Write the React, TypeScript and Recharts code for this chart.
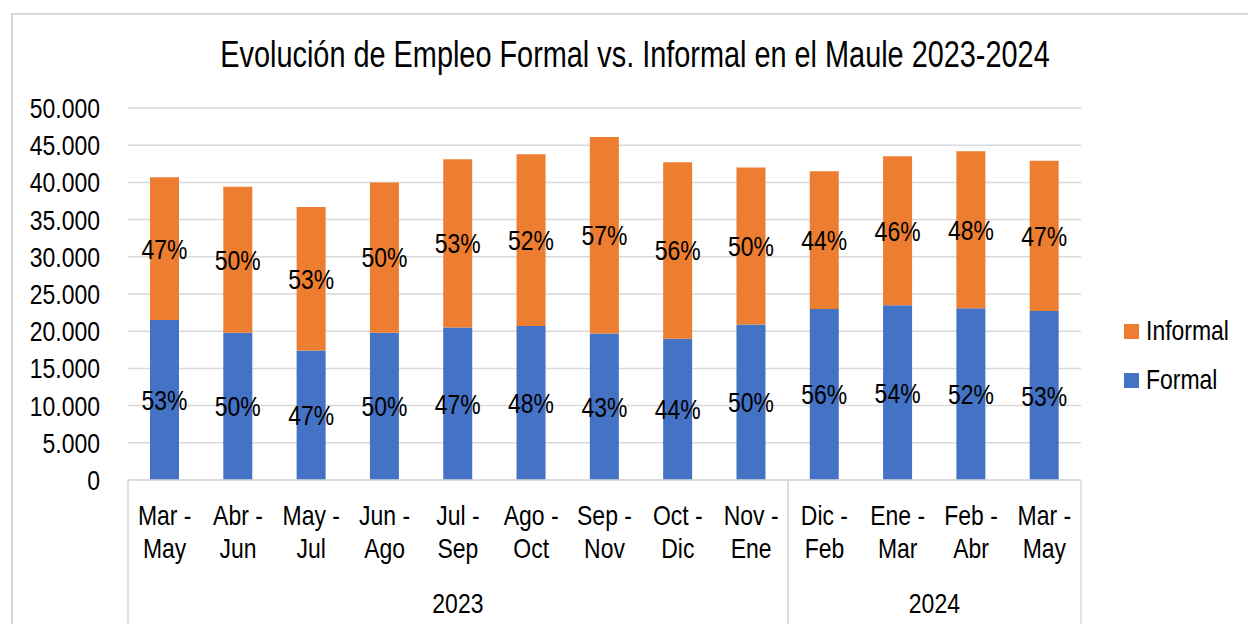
import React from 'react';
import { BarChart, Bar, XAxis, YAxis, CartesianGrid, LabelList } from 'recharts';

// period labels, split in two lines as in the original
const PERIOD_TOP = ['Mar -', 'Abr -', 'May -', 'Jun -', 'Jul -', 'Ago -', 'Sep -', 'Oct -', 'Nov -', 'Dic -', 'Ene -', 'Feb -', 'Mar -'];
const PERIOD_BOTTOM = ['May', 'Jun', 'Jul', 'Ago', 'Sep', 'Oct', 'Nov', 'Dic', 'Ene', 'Feb', 'Mar', 'Abr', 'May'];
const YEARS = [
  { label: '2023', count: 9 },
  { label: '2024', count: 4 },
];

const FORMAL = [21500, 19800, 17400, 19800, 20500, 20700, 19700, 19000, 20900, 23000, 23500, 23100, 22700];
const INFORMAL = [19200, 19600, 19300, 20200, 22600, 23100, 26400, 23700, 21100, 18500, 20000, 21100, 20200];
const FORMAL_PCT = [53, 50, 47, 50, 47, 48, 43, 44, 50, 56, 54, 52, 53];
const INFORMAL_PCT = [47, 50, 53, 50, 53, 52, 57, 56, 50, 44, 46, 48, 47];

const Y_TICKS = [0, 5000, 10000, 15000, 20000, 25000, 30000, 35000, 40000, 45000, 50000];

const W = 1248;
const H = 624;
const M_LEFT = 0;
const Y_W = 128;
const M_RIGHT = 167;
const M_TOP = 108;
const X_H = 144;
const BAND = (W - M_LEFT - Y_W - M_RIGHT) / PERIOD_TOP.length;

// no Arial Narrow here: Liberation Sans squeezed horizontally
const FONT = '"Liberation Sans", Arial, sans-serif';
const NARROW = 0.82;
const FS = 28;
const BLUE = '#4472C4';
const ORANGE = '#ED7D31';
const GRID = '#d9d9d9';

// year each period belongs to, plus group start/end flags
const yearOf: { start: boolean; end: boolean; label: string; count: number }[] = [];
YEARS.forEach((g) => {
  for (let k = 0; k < g.count; k++) {
    yearOf.push({ start: k === 0, end: k === g.count - 1, label: g.label, count: g.count });
  }
});

const data = PERIOD_TOP.map((t, i) => ({
  name: `${t} ${PERIOD_BOTTOM[i]} ${yearOf[i].label}`,
  formal: FORMAL[i],
  informal: INFORMAL[i],
  formalPct: `${FORMAL_PCT[i]}%`,
  informalPct: `${INFORMAL_PCT[i]}%`,
}));

const fmt = (v: number) => v.toLocaleString('de-DE');

const NText = ({ x, y, anchor = 'middle', dy, children }: any) => (
  <text
    transform={`translate(${x},${y}) scale(${NARROW},1)`}
    textAnchor={anchor}
    dy={dy}
    fontSize={FS}
    fontFamily={FONT}
    fill="#000"
  >
    {children}
  </text>
);

const PeriodTick = (props: any) => {
  const { x, y, payload } = props;
  const i = payload.index ?? props.index;
  const half = BAND / 2;
  const g = yearOf[i];
  return (
    <g>
      <NText x={x} y={y + 45}>{PERIOD_TOP[i]}</NText>
      <NText x={x} y={y + 78}>{PERIOD_BOTTOM[i]}</NText>
      {g.start && <line x1={x - half} x2={x - half} y1={y} y2={y + X_H} stroke={GRID} strokeWidth={1.5} />}
      {g.end && <line x1={x + half} x2={x + half} y1={y} y2={y + X_H} stroke={GRID} strokeWidth={1.5} />}
      {g.end && <NText x={x - (g.count - 1) * half} y={y + 133}>{g.label}</NText>}
    </g>
  );
};

const ValueTick = (props: any) => {
  const { x, y, payload } = props;
  return (
    <NText x={x} y={y} anchor="end" dy="0.355em">
      {fmt(payload.value)}
    </NText>
  );
};

const PctLabel = (props: any) => {
  const { x, y, width, height, value } = props;
  return (
    <NText x={x + width / 2} y={y + height / 2} dy="0.355em">
      {value}
    </NText>
  );
};

const LegendItem = ({ color, label, top }: { color: string; label: string; top: number }) => (
  <div style={{ position: 'absolute', left: 1124, top, display: 'flex', alignItems: 'center', height: 30 }}>
    <span style={{ width: 15, height: 15, background: color, display: 'inline-block', marginRight: 7 }} />
    <span
      style={{
        fontFamily: FONT,
        fontSize: FS,
        color: '#000',
        lineHeight: '30px',
        display: 'inline-block',
        transform: `scaleX(${NARROW})`,
        transformOrigin: 'left center',
        whiteSpace: 'nowrap',
      }}
    >
      {label}
    </span>
  </div>
);

export default function App() {
  return (
    <div style={{ position: 'absolute', left: 0, top: 0, width: W, height: H, overflow: 'hidden', background: '#fff' }}>
      <div
        style={{
          position: 'absolute',
          left: 11,
          top: 13,
          width: W + 20,
          height: H + 20,
          borderLeft: `2px solid ${GRID}`,
          borderTop: `2px solid ${GRID}`,
        }}
      />
      <div
        style={{
          position: 'absolute',
          left: 0,
          top: 36,
          width: 1270,
          textAlign: 'center',
          fontFamily: FONT,
          fontSize: 37,
          lineHeight: '37px',
          color: '#000',
          whiteSpace: 'nowrap',
          transform: 'scaleX(0.78)',
          transformOrigin: '635px 50%',
        }}
      >
        Evolución de Empleo Formal vs. Informal en el Maule 2023-2024
      </div>
      <BarChart
        width={W}
        height={H}
        data={data}
        margin={{ top: M_TOP, right: M_RIGHT, bottom: 0, left: M_LEFT }}
        barSize={29}
        style={{ position: 'absolute', left: 0, top: 0 }}
      >
        <CartesianGrid vertical={false} stroke={GRID} strokeWidth={1.5} />
        <XAxis
          dataKey="name"
          interval={0}
          height={X_H}
          tickLine={false}
          tickSize={0}
          tickMargin={0}
          axisLine={{ stroke: GRID, strokeWidth: 1.5 }}
          tick={<PeriodTick />}
        />
        <YAxis
          width={Y_W}
          domain={[0, 50000]}
          ticks={Y_TICKS}
          axisLine={false}
          tickLine={false}
          tickSize={0}
          tickMargin={28}
          tick={<ValueTick />}
        />
        <Bar dataKey="formal" stackId="a" fill={BLUE} isAnimationActive={false}>
          <LabelList dataKey="formalPct" content={<PctLabel />} />
        </Bar>
        <Bar dataKey="informal" stackId="a" fill={ORANGE} isAnimationActive={false}>
          <LabelList dataKey="informalPct" content={<PctLabel />} />
        </Bar>
      </BarChart>
      <LegendItem color={ORANGE} label="Informal" top={316} />
      <LegendItem color={BLUE} label="Formal" top={365} />
    </div>
  );
}
